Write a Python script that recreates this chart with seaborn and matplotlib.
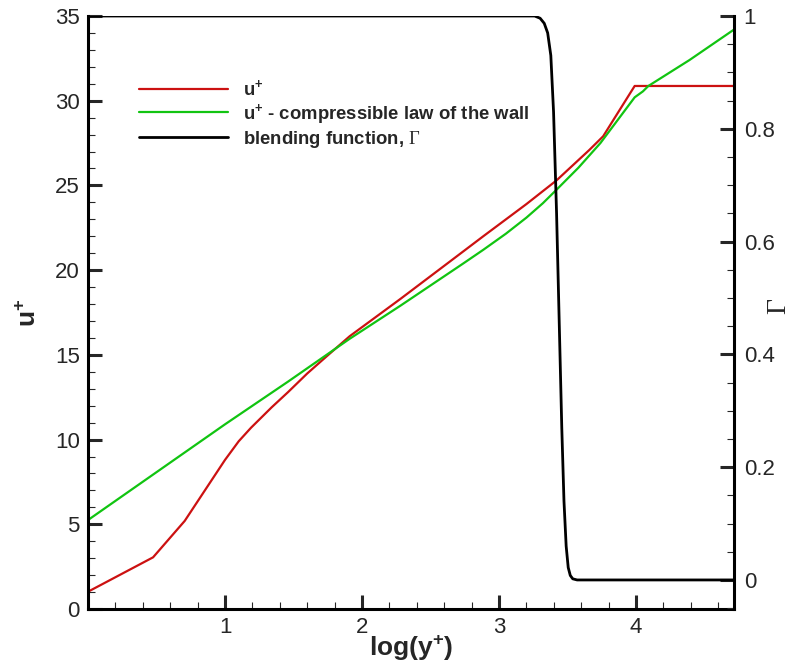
import matplotlib
matplotlib.use("Agg")
import matplotlib.pyplot as plt
from matplotlib.ticker import MultipleLocator
import seaborn as sns
import pandas as pd

# u+ profile (red)
u_logy = [0.0, 0.475, 0.706, 1.0, 1.1, 1.19, 1.34, 1.46, 1.60, 1.74, 1.91,
          2.28, 2.64, 2.885, 3.20, 3.42, 3.66, 3.76, 3.99, 4.715]
u_plus = [1.02, 3.05, 5.2, 8.8, 9.9, 10.7, 11.9, 12.8, 13.9, 14.9, 16.1,
          18.3, 20.5, 22.0, 23.9, 25.3, 27.1, 27.9, 30.87, 30.87]

# compressible law of the wall (green)
w_logy = [0.0, 0.453, 1.0, 1.46, 1.91, 2.28, 2.74, 2.885, 3.05, 3.2, 3.32, 3.42,
          3.58, 3.74, 3.99, 4.05, 4.09, 4.39, 4.715]
w_plus = [5.25, 7.81, 10.9, 13.42, 15.95, 17.9, 20.4, 21.2, 22.15, 23.1, 23.95, 24.75,
          26.05, 27.5, 30.2, 30.55, 30.87, 32.4, 34.2]

# blending function (black, right axis)
g_logy = [0.0, 3.26, 3.30, 3.33, 3.355, 3.378, 3.398, 3.42, 3.44, 3.458, 3.474,
          3.49, 3.505, 3.52, 3.538, 3.57, 4.715]
g_val = [1.0, 1.0, 0.996, 0.987, 0.97, 0.93, 0.83, 0.65, 0.45, 0.27, 0.14,
         0.06, 0.022, 0.008, 0.002, 0.0, 0.0]

x_ticks = [1, 2, 3, 4]
u_ticks = [0, 5, 10, 15, 20, 25, 30, 35]
g_ticks = [0, 0.2, 0.4, 0.6, 0.8, 1]

sns.set_style("ticks")
plt.rcParams["font.family"] = ["Liberation Sans", "DejaVu Sans"]
plt.rcParams["mathtext.fontset"] = "custom"
plt.rcParams["mathtext.bf"] = "Liberation Sans:bold"
plt.rcParams["mathtext.rm"] = "Liberation Serif"
plt.rcParams["mathtext.it"] = "Liberation Sans:italic"

df_u = pd.DataFrame({"x": u_logy, "y": u_plus})
df_w = pd.DataFrame({"x": w_logy, "y": w_plus})
df_g = pd.DataFrame({"x": g_logy, "y": g_val})

fig = plt.figure(figsize=(8.04, 6.69), dpi=100)
ax = fig.add_axes([88 / 804, 1 - 609 / 669, (734 - 88) / 804, (609 - 16) / 669])
ax2 = ax.twinx()

red = "#cc1111"
green = "#11c411"

sns.lineplot(data=df_u, x="x", y="y", ax=ax, sort=False, estimator=None,
             color=red, linewidth=1.6, label=r"$\mathbf{u^{+}}$")
sns.lineplot(data=df_w, x="x", y="y", ax=ax, sort=False, estimator=None,
             color=green, linewidth=1.6,
             label=r"$\mathbf{u^{+}}$ - compressible law of the wall")
sns.lineplot(data=df_g, x="x", y="y", ax=ax2, sort=False, estimator=None,
             color="black", linewidth=2.0,
             label=r"blending function, $\mathrm{\Gamma}$")

ax.set_xlim(0, 4.715)
ax.set_ylim(0, 35)
ax2.set_ylim(-0.0515, 1.0)

ax.set_xticks(x_ticks)
ax.set_yticks(u_ticks)
ax2.set_yticks(g_ticks)
ax2.set_yticklabels([f"{t:g}" for t in g_ticks])
ax.xaxis.set_minor_locator(MultipleLocator(0.2))
ax.yaxis.set_minor_locator(MultipleLocator(1))
ax2.yaxis.set_minor_locator(MultipleLocator(0.05))

for a in (ax, ax2):
    for s in a.spines.values():
        s.set_linewidth(2.2)
        s.set_color("black")
    a.spines["top"].set_visible(False)
ax.spines["right"].set_visible(False)
ax2.spines["left"].set_visible(False)
ax2.spines["bottom"].set_visible(False)

ax.tick_params(axis="both", which="major", direction="in", length=10, width=2.2,
               labelsize=16, pad=6, top=False, right=False)
ax.tick_params(axis="both", which="minor", direction="in", length=5, width=0.8,
               top=False, right=False)
ax2.tick_params(axis="y", which="major", direction="in", length=10, width=2.2,
                labelsize=16, pad=7)
ax2.tick_params(axis="y", which="minor", direction="in", length=5, width=0.8)

ax.set_xlabel(r"$\mathbf{log(y^{+})}$", fontsize=19, labelpad=-3)
ax.set_ylabel(r"$\mathbf{u^{+}}$", fontsize=19, labelpad=10)
ax2.set_ylabel(r"$\mathrm{\Gamma}$", fontsize=20, rotation=90)
ax2.yaxis.set_label_coords(1.05, 0.51)

ax.get_legend().remove()
ax2.get_legend().remove()
h1, l1 = ax.get_legend_handles_labels()
h2, l2 = ax2.get_legend_handles_labels()
fig.legend(h1 + h2, l1 + l2, loc="upper left",
           bbox_to_anchor=(139 / 804, 1 - 79 / 669), frameon=False,
           prop={"weight": "bold", "size": 13.3}, handlelength=4.8,
           handletextpad=0.85, labelspacing=0.15, borderpad=0, borderaxespad=0)

fig.savefig("out.png", dpi=100)
